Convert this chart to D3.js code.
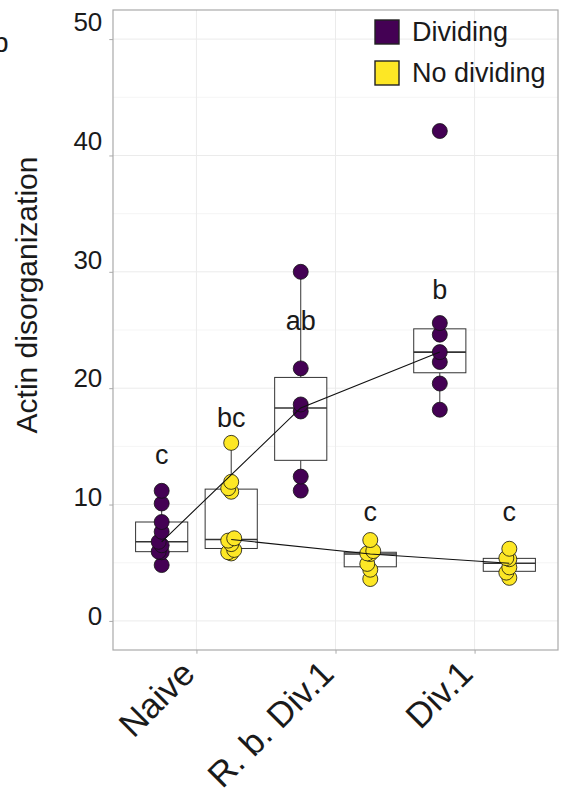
<!DOCTYPE html>
<html>
<head>
<meta charset="utf-8">
<script src="https://cdn.jsdelivr.net/npm/d3@7"></script>
<style>
  body { margin: 0; background: #fff; }
  text { font-family: Helvetica, Arial, "Liberation Sans", sans-serif; fill: #1a1a1a; }
</style>
</head>
<body>
<div id="chart"></div>
<script>
var width = 563;
var height = 793;

// categories and groups
var categories = ["Naive", "R. b. Div.1", "Div.1"];
var groups = ["Dividing", "No dividing"];
var groupColors = ["#440154", "#FDE725"];

// values per category
var dividingValues = [
  [4.8, 5.9, 5.95, 6.5, 6.8, 7.66, 8.5, 10.09, 11.18],
  [11.2, 12.4, 18.0, 18.6, 21.7, 30.0],
  [18.15, 20.4, 22.25, 23.1, 24.6, 25.6, 42.1]
];
var noDividingValues = [
  [5.8, 5.9, 6.1, 6.6, 6.9, 7.1, 11.1, 11.4, 11.95, 15.3],
  [3.6, 4.4, 4.9, 5.75, 5.8, 6.0, 6.95],
  [3.7, 4.15, 4.6, 5.3, 5.4, 6.2]
];

// significance letters and where they sit (y value)
var dividingLetters = ["c", "ab", "b"];
var dividingLetterY = [14.3, 25.8, 28.5];
var noDividingLetters = ["bc", "c", "c"];
var noDividingLetterY = [17.5, 9.4, 9.4];

var yTicks = [0, 10, 20, 30, 40, 50];

var svg = d3.select("#chart").append("svg")
  .attr("width", width)
  .attr("height", height);

var panel = { left: 113, right: 558, top: 10, bottom: 650 };

var x = d3.scalePoint().domain(categories).range([panel.left, panel.right]).padding(0.6);
var step = x.step();
// dodge width of one category step, boxes 0.75 of a dodge slot
var dodge = d3.scaleBand().domain(groups).range([-0.5 * step, 0.5 * step]);
var boxW = dodge.bandwidth() * 0.75;
var y = d3.scaleLinear().domain([-2.5, 52.5]).range([panel.bottom, panel.top]);

// tick labels in the figure are spaced a little wider than the grid
var yLabel = d3.scaleLinear().domain([0, 50]).range([616, 22.5]);

// grid
var grid = svg.append("g").attr("class", "grid");
var minor = d3.range(5, 55, 10);
grid.selectAll(".minor").data(minor).enter().append("line")
  .attr("x1", panel.left).attr("x2", panel.right)
  .attr("y1", function (d) { return y(d); }).attr("y2", function (d) { return y(d); })
  .attr("stroke", "#f2f2f2").attr("stroke-width", 0.8);
grid.selectAll(".major").data(yTicks).enter().append("line")
  .attr("x1", panel.left).attr("x2", panel.right)
  .attr("y1", function (d) { return y(d); }).attr("y2", function (d) { return y(d); })
  .attr("stroke", "#ebebeb").attr("stroke-width", 1);
grid.selectAll(".vert").data(categories).enter().append("line")
  .attr("x1", function (d) { return x(d); }).attr("x2", function (d) { return x(d); })
  .attr("y1", panel.top).attr("y2", panel.bottom)
  .attr("stroke", "#ebebeb").attr("stroke-width", 1);

// build cells
var cells = [];
categories.forEach(function (c, i) {
  [dividingValues[i], noDividingValues[i]].forEach(function (vals, g) {
    var s = vals.slice().sort(d3.ascending);
    var q1 = d3.quantile(s, 0.25), med = d3.quantile(s, 0.5), q3 = d3.quantile(s, 0.75);
    var iqr = q3 - q1;
    var lo = d3.min(s.filter(function (v) { return v >= q1 - 1.5 * iqr; }));
    var hi = d3.max(s.filter(function (v) { return v <= q3 + 1.5 * iqr; }));
    cells.push({
      cat: c, group: groups[g], color: groupColors[g], values: s,
      cx: x(c) + dodge(groups[g]) + dodge.bandwidth() / 2,
      q1: q1, med: med, q3: q3, lo: lo, hi: hi,
      letter: g === 0 ? dividingLetters[i] : noDividingLetters[i],
      letterY: g === 0 ? dividingLetterY[i] : noDividingLetterY[i]
    });
  });
});

// boxplots
var boxes = svg.append("g").attr("class", "boxes");
var bx = boxes.selectAll("g").data(cells).enter().append("g");
bx.append("line")
  .attr("x1", function (d) { return d.cx; }).attr("x2", function (d) { return d.cx; })
  .attr("y1", function (d) { return y(d.hi); }).attr("y2", function (d) { return y(d.q3); })
  .attr("stroke", "#333").attr("stroke-width", 1);
bx.append("line")
  .attr("x1", function (d) { return d.cx; }).attr("x2", function (d) { return d.cx; })
  .attr("y1", function (d) { return y(d.q1); }).attr("y2", function (d) { return y(d.lo); })
  .attr("stroke", "#333").attr("stroke-width", 1);
bx.append("rect")
  .attr("x", function (d) { return d.cx - boxW / 2; })
  .attr("width", boxW)
  .attr("y", function (d) { return y(d.q3); })
  .attr("height", function (d) { return y(d.q1) - y(d.q3); })
  .attr("fill", "#fff").attr("stroke", "#333").attr("stroke-width", 1);
bx.append("line")
  .attr("x1", function (d) { return d.cx - boxW / 2; }).attr("x2", function (d) { return d.cx + boxW / 2; })
  .attr("y1", function (d) { return y(d.med); }).attr("y2", function (d) { return y(d.med); })
  .attr("stroke", "#333").attr("stroke-width", 1.6);

// points, small sideways nudge where they pile up
var r = 7.5;
var points = [];
cells.forEach(function (cell) {
  var placed = [];
  cell.values.forEach(function (v) {
    var py = y(v);
    var cands = [0, -3, 3, -5, 5];
    var off = 0;
    for (var k = 0; k < cands.length; k++) {
      var ok = placed.every(function (p) { return Math.abs(p.py - py) > r * 0.9 || Math.abs(p.off - cands[k]) >= 3; });
      if (ok) { off = cands[k]; break; }
    }
    placed.push({ py: py, off: off });
    points.push({ x: cell.cx + off, y: py, color: cell.color });
  });
});
svg.append("g").attr("class", "points").selectAll("circle").data(points).enter().append("circle")
  .attr("cx", function (d) { return d.x; })
  .attr("cy", function (d) { return d.y; })
  .attr("r", r)
  .attr("fill", function (d) { return d.color; })
  .attr("stroke", "#111").attr("stroke-width", 0.8);

// median lines per group
var line = d3.line().x(function (d) { return d.cx; }).y(function (d) { return y(d.med); });
groups.forEach(function (g) {
  svg.append("path")
    .datum(cells.filter(function (c) { return c.group === g; }))
    .attr("d", line)
    .attr("fill", "none").attr("stroke", "#111").attr("stroke-width", 1.1);
});

// letters
svg.append("g").selectAll("text").data(cells).enter().append("text")
  .attr("x", function (d) { return d.cx; })
  .attr("y", function (d) { return y(d.letterY); })
  .attr("dy", "0.35em")
  .attr("text-anchor", "middle")
  .style("font-size", "27px")
  .text(function (d) { return d.letter; });

// panel border
svg.append("rect")
  .attr("x", panel.left).attr("y", panel.top)
  .attr("width", panel.right - panel.left).attr("height", panel.bottom - panel.top)
  .attr("fill", "none").attr("stroke", "#aaa").attr("stroke-width", 1.2);

// y axis
var yAxis = d3.axisLeft(y).tickValues(yTicks).tickSize(3.7).tickPadding(7);
var yAxisGroup = svg.append("g").attr("transform", "translate(" + panel.left + ",0)").call(yAxis);
yAxisGroup.select(".domain").remove();
yAxisGroup.selectAll(".tick line").attr("stroke", "#aaa");
yAxisGroup.selectAll(".tick text")
  .style("font-size", "26px").attr("fill", "#1a1a1a")
  .attr("y", function (d) { return yLabel(d) - y(d); });

// x axis
var xAxis = d3.axisBottom(x).tickSize(3.7).tickPadding(0);
var xAxisGroup = svg.append("g").attr("transform", "translate(0," + panel.bottom + ")").call(xAxis);
xAxisGroup.select(".domain").remove();
xAxisGroup.selectAll(".tick line").attr("stroke", "#aaa");
xAxisGroup.selectAll(".tick text")
  .style("font-size", "35px").attr("fill", "#1a1a1a")
  .attr("text-anchor", "end")
  .attr("y", 0).attr("dy", "0.72em")
  .attr("transform", "translate(-18,8) rotate(-45)");

// axis title
svg.append("text")
  .attr("transform", "translate(37,295) rotate(-90)")
  .attr("text-anchor", "middle")
  .style("font-size", "30px")
  .text("Actin disorganization");

// panel tag, partly off the left edge
svg.append("text").attr("x", -7).attr("y", 52).style("font-size", "28px").text("b");

// legend
var legend = svg.append("g").attr("class", "legend");
var items = legend.selectAll("g").data(groups).enter().append("g")
  .attr("transform", function (d, i) { return "translate(375," + (20 + i * 41) + ")"; });
items.append("rect")
  .attr("width", 24).attr("height", 24)
  .attr("fill", function (d, i) { return groupColors[i]; })
  .attr("stroke", "#222").attr("stroke-width", 1.4);
items.append("text")
  .attr("x", 37).attr("y", 12).attr("dy", "0.35em")
  .style("font-size", "27px")
  .text(function (d) { return d; });
</script>
</body>
</html>
